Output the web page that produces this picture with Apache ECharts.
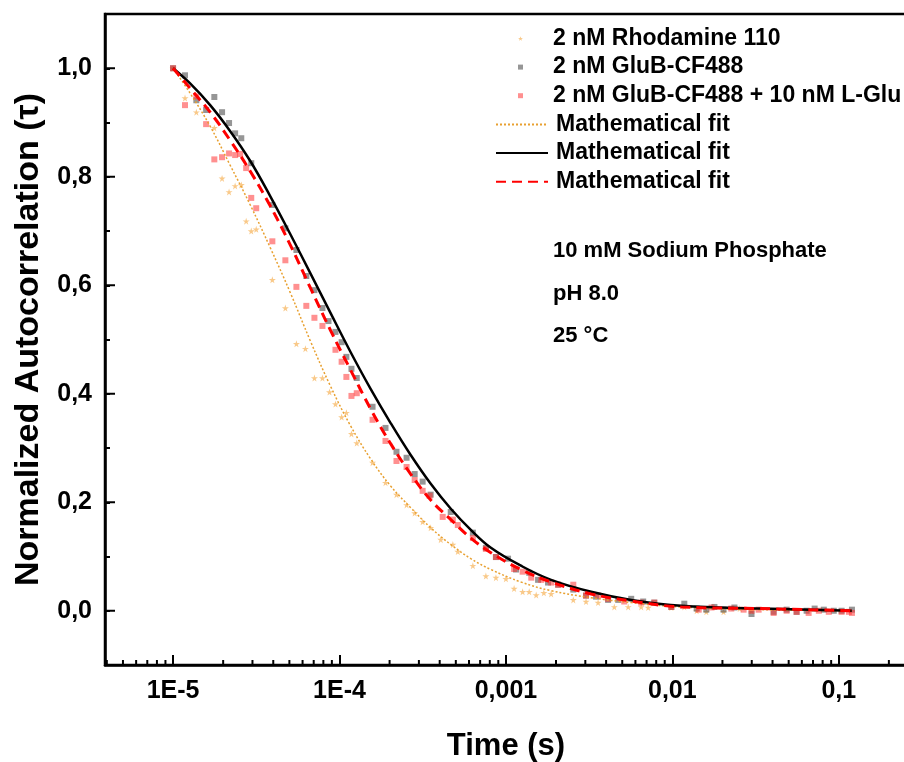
<!DOCTYPE html>
<html>
<head>
<meta charset="utf-8">
<script src="https://cdn.jsdelivr.net/npm/echarts@6/dist/echarts.min.js"></script>
<style>
  html, body { margin: 0; padding: 0; background: #fff; }
  #chart { width: 904px; height: 762px; }
</style>
</head>
<body>
<div id="chart"></div>
<script>
// ---- data (time in s, normalized G(tau)) ----
const rhoT = [1.0e-5, 1.18e-5, 1.38e-5, 1.77e-5, 1.97e-5, 2.17e-5, 2.36e-5, 2.57e-5, 2.75e-5, 2.95e-5,
  3.16e-5, 3.95e-5, 4.73e-5, 5.51e-5, 6.24e-5, 7.07e-5, 7.90e-5, 8.71e-5, 9.46e-5, 1.03e-4,
  1.10e-4, 1.18e-4, 1.27e-4, 1.58e-4, 1.89e-4, 2.20e-4, 2.53e-4, 2.83e-4, 3.16e-4, 3.53e-4,
  4.06e-4, 4.80e-4, 5.14e-4, 6.33e-4, 7.58e-4, 8.71e-4, 1.00e-3, 1.12e-3, 1.26e-3, 1.38e-3,
  1.52e-3, 1.69e-3, 1.87e-3, 2.54e-3, 3.03e-3, 3.58e-3, 4.48e-3, 5.43e-3, 6.50e-3, 7.16e-3,
  9.86e-3, 1.18e-2, 1.40e-2, 1.60e-2, 2.03e-2, 2.54e-2, 2.99e-2];
const rhoG = [1.000, 0.945, 0.919, 0.890, 0.797, 0.772, 0.783, 0.785, 0.718, 0.700,
  0.703, 0.610, 0.558, 0.492, 0.483, 0.429, 0.429, 0.403, 0.381, 0.357,
  0.365, 0.326, 0.309, 0.273, 0.236, 0.214, 0.195, 0.180, 0.164, 0.153,
  0.131, 0.122, 0.109, 0.083, 0.064, 0.061, 0.059, 0.041, 0.035, 0.035,
  0.029, 0.033, 0.031, 0.020, 0.017, 0.015, 0.007, 0.007, 0.007, 0.006,
  0.006, 0.007, 0.000, -0.002, -0.002, 0.004, 0.000];

const glubT = [1.0e-5, 1.18e-5, 1.38e-5, 1.58e-5, 1.77e-5, 1.97e-5, 2.17e-5, 2.36e-5, 2.57e-5, 2.95e-5,
  3.95e-5, 4.73e-5, 5.51e-5, 6.32e-5, 7.07e-5, 7.90e-5, 8.59e-5, 9.46e-5, 1.03e-4, 1.10e-4,
  1.18e-4, 1.27e-4, 1.58e-4, 1.89e-4, 2.20e-4, 2.53e-4, 2.83e-4, 3.16e-4, 3.53e-4, 4.66e-4,
  6.33e-4, 7.58e-4, 8.71e-4, 1.03e-3, 1.15e-3, 1.38e-3, 1.56e-3, 1.79e-3, 2.06e-3, 2.54e-3,
  3.03e-3, 3.48e-3, 4.11e-3, 4.73e-3, 5.66e-3, 6.68e-3, 7.79e-3, 9.86e-3, 1.18e-2, 1.40e-2,
  1.60e-2, 1.79e-2, 2.03e-2, 2.36e-2, 2.99e-2, 4.06e-2, 4.86e-2, 5.58e-2, 6.41e-2, 7.16e-2,
  8.13e-2, 9.33e-2, 0.104, 0.120];
const glubG = [1.000, 0.987, 0.941, 0.923, 0.947, 0.919, 0.899, 0.880, 0.871, 0.825,
  0.748, 0.705, 0.665, 0.617, 0.591, 0.558, 0.534, 0.514, 0.495, 0.468,
  0.446, 0.429, 0.376, 0.337, 0.293, 0.282, 0.252, 0.238, 0.214, 0.182,
  0.144, 0.116, 0.099, 0.096, 0.076, 0.070, 0.057, 0.052, 0.048, 0.039,
  0.028, 0.026, 0.020, 0.020, 0.022, 0.017, 0.015, 0.007, 0.013, 0.004,
  0.002, 0.007, 0.002, 0.006, -0.006, -0.002, 0.002, -0.002, 0.000, 0.004,
  0.002, 0.000, 0.000, 0.002];

const gluT = [1.0e-5, 1.18e-5, 1.38e-5, 1.58e-5, 1.77e-5, 1.97e-5, 2.17e-5, 2.36e-5, 2.53e-5, 2.75e-5,
  2.95e-5, 3.16e-5, 3.95e-5, 4.73e-5, 5.51e-5, 6.32e-5, 7.07e-5, 7.90e-5, 9.46e-5, 1.03e-4,
  1.10e-4, 1.18e-4, 1.27e-4, 1.58e-4, 1.89e-4, 2.20e-4, 2.53e-4, 2.83e-4, 3.16e-4, 3.48e-4,
  4.17e-4, 4.80e-4, 5.14e-4, 6.33e-4, 7.58e-4, 8.71e-4, 1.12e-3, 1.26e-3, 1.42e-3, 1.63e-3,
  1.87e-3, 2.06e-3, 2.54e-3, 3.03e-3, 3.58e-3, 4.11e-3, 5.14e-3, 6.50e-3, 7.79e-3, 9.86e-3,
  1.44e-2, 1.72e-2, 2.26e-2, 2.68e-2, 2.99e-2, 3.30e-2, 4.06e-2, 4.86e-2, 5.58e-2, 6.59e-2,
  7.59e-2, 8.71e-2, 0.104, 0.115, 0.120];
const gluG = [1.000, 0.932, 0.948, 0.897, 0.832, 0.836, 0.843, 0.840, 0.842, 0.816,
  0.761, 0.742, 0.681, 0.646, 0.597, 0.562, 0.540, 0.525, 0.481, 0.459,
  0.431, 0.396, 0.401, 0.352, 0.313, 0.276, 0.265, 0.241, 0.221, 0.212,
  0.173, 0.168, 0.158, 0.134, 0.114, 0.099, 0.077, 0.072, 0.061, 0.057,
  0.052, 0.048, 0.048, 0.028, 0.028, 0.022, 0.017, 0.015, 0.015, 0.007,
  0.002, 0.006, 0.004, 0.002, 0.000, 0.002, -0.004, 0.000, -0.002, -0.004,
  0.000, -0.002, -0.002, -0.002, -0.004];

// fitted curves on a common time grid
const fitT = [1.000e-5, 1.266e-5, 1.671e-5, 2.205e-5, 2.910e-5, 3.840e-5, 5.068e-5, 6.688e-5, 8.828e-5, 1.165e-4,
  1.538e-4, 2.029e-4, 2.678e-4, 3.534e-4, 4.665e-4, 6.156e-4, 8.124e-4, 1.231e-3, 1.867e-3, 3.252e-3,
  5.662e-3, 1.133e-2, 3.437e-2, 0.1197];
const fitRhoG = [1.000, 0.954, 0.893, 0.821, 0.748, 0.669, 0.586, 0.497, 0.414, 0.341,
  0.280, 0.230, 0.190, 0.153, 0.122, 0.096, 0.076, 0.053, 0.037, 0.024,
  0.015, 0.007, 0.002, 0.000];
const fitGlubG = [1.000, 0.972, 0.932, 0.884, 0.829, 0.764, 0.694, 0.622, 0.549, 0.477,
  0.409, 0.346, 0.287, 0.234, 0.188, 0.149, 0.116, 0.083, 0.057, 0.035,
  0.020, 0.009, 0.004, 0.000];
const fitGluG = [1.000, 0.963, 0.919, 0.867, 0.810, 0.746, 0.674, 0.595, 0.517, 0.444,
  0.372, 0.308, 0.252, 0.204, 0.168, 0.134, 0.107, 0.076, 0.053, 0.031,
  0.018, 0.007, 0.004, 0.000];

// axis ticks
const xTickExps = [-5, -4, -3, -2, -1];
const xTickLabels = ['1E-5', '1E-4', '0,001', '0,01', '0,1'];
const yTickValues = [0, 0.2, 0.4, 0.6, 0.8, 1.0];
const yTickLabels = ['0,0', '0,2', '0,4', '0,6', '0,8', '1,0'];

const names = ['2 nM Rhodamine 110', '2 nM GluB-CF488', '2 nM GluB-CF488 + 10 nM L-Glu'];
const fitNames = ['Mathematical fit', 'Mathematical fit ', 'Mathematical fit  '];

const X_MIN = 3.9e-6, X_MAX = 0.257, Y_MIN = -0.1, Y_MAX = 1.1;
const FONT = '"Liberation Sans", Arial, sans-serif';
const STAR = 'path://M50,0 L61,35 L98,35 L68,57 L79,91 L50,70 L21,91 L32,57 L2,35 L39,35 Z';

const zip = (a, b) => a.map((v, i) => [v, b[i]]);

// log minor ticks on the x axis (2..9 x 10^k)
const xMinor = [];
for (let e = -6; e <= -1; e++) {
  for (let m = 2; m <= 9; m++) {
    const v = m * Math.pow(10, e);
    if (v > X_MIN && v < X_MAX) xMinor.push([v, Y_MIN]);
  }
}

let myChart = echarts.init(document.getElementById('chart'), null, { renderer: 'canvas' });

const option = {
  animation: false,
  backgroundColor: '#fff',
  textStyle: { fontFamily: FONT },
  grid: {
    left: 105, top: 14, right: -3, bottom: 97,
    outerBoundsMode: 'none',
    show: true, borderColor: '#000', borderWidth: 2.5
  },
  legend: [
    {
      data: names,
      orient: 'vertical',
      left: 518, top: 27,
      padding: 0,
      itemWidth: 5, itemHeight: 5,
      itemGap: 5.6,
      textStyle: { fontFamily: FONT, fontWeight: 'bold', fontSize: 23, color: '#000', padding: [0, 0, 0, 25] }
    },
    {
      data: fitNames,
      orient: 'vertical',
      left: 495, top: 113,
      padding: 0,
      itemWidth: 52, itemHeight: 14,
      itemGap: 5.6,
      itemStyle: { opacity: 0 },
      formatter: n => n.trim(),
      textStyle: { fontFamily: FONT, fontWeight: 'bold', fontSize: 23, color: '#000', padding: [0, 0, 0, 3] }
    }
  ],
  xAxis: {
    type: 'log',
    logBase: 10,
    min: X_MIN, max: X_MAX,
    name: 'Time (s)',
    nameLocation: 'middle',
    nameGap: 66,
    nameTextStyle: { fontFamily: FONT, fontWeight: 'bold', fontSize: 31, color: '#000' },
    axisLine: { onZero: false, lineStyle: { color: '#000', width: 2.5 } },
    axisTick: { inside: true, length: 10, lineStyle: { color: '#000', width: 2 } },
    axisLabel: {
      margin: 14, color: '#000', fontFamily: FONT, fontWeight: 'bold', fontSize: 25,
      showMinLabel: false, showMaxLabel: false,
      formatter: v => {
        const l = Math.log10(v), e = Math.round(l);
        const i = xTickExps.indexOf(e);
        return (i >= 0 && Math.abs(l - e) < 1e-6) ? xTickLabels[i] : '';
      }
    },
    splitLine: { show: false }
  },
  yAxis: {
    type: 'value',
    min: Y_MIN, max: Y_MAX, interval: 0.1,
    name: 'Normalized Autocorrelation (\u03c4)',
    nameLocation: 'middle',
    nameGap: 59,
    nameTextStyle: { fontFamily: FONT, fontWeight: 'bold', fontSize: 34, color: '#000' },
    axisLine: { onZero: false, lineStyle: { color: '#000', width: 2.5 } },
    axisTick: { inside: true, length: 5, lineStyle: { color: '#000', width: 2 } },
    axisLabel: {
      margin: 13, color: '#000', fontFamily: FONT, fontWeight: 'bold', fontSize: 25,
      formatter: v => {
        const i = yTickValues.findIndex(t => Math.abs(t - v) < 1e-6);
        return i >= 0 ? yTickLabels[i] : '';
      }
    },
    splitLine: { show: false }
  },
  graphic: [
    { type: 'text', x: 553, y: 251, style: { text: '10 mM Sodium Phosphate', font: 'bold 22px ' + FONT, fill: '#000', verticalAlign: 'middle' } },
    { type: 'text', x: 553, y: 294, style: { text: 'pH 8.0', font: 'bold 22px ' + FONT, fill: '#000', verticalAlign: 'middle' } },
    { type: 'text', x: 553, y: 336, style: { text: '25 \u00b0C', font: 'bold 22px ' + FONT, fill: '#000', verticalAlign: 'middle' } }
  ],
  series: [
    {
      name: names[0], type: 'scatter', data: zip(rhoT, rhoG),
      symbol: STAR, symbolSize: 7,
      itemStyle: { color: 'rgba(245,170,70,0.8)' }
    },
    {
      name: names[1], type: 'scatter', data: zip(glubT, glubG),
      symbol: 'rect', symbolSize: 6,
      itemStyle: { color: 'rgba(80,80,80,0.75)' }
    },
    {
      name: names[2], type: 'scatter', data: zip(gluT, gluG),
      symbol: 'rect', symbolSize: 6,
      itemStyle: { color: 'rgba(255,50,50,0.68)' }
    },
    {
      name: fitNames[0], type: 'line', data: zip(fitT, fitRhoG),
      symbol: 'none', smooth: 0.4,
      lineStyle: { color: '#e8a030', width: 1.5, type: [2, 2] },
      itemStyle: { color: '#e8a030' }
    },
    {
      name: fitNames[1], type: 'line', data: zip(fitT, fitGlubG),
      symbol: 'none', smooth: 0.4,
      lineStyle: { color: '#000', width: 2.5 },
      itemStyle: { color: '#000' }
    },
    {
      name: fitNames[2], type: 'line', data: zip(fitT, fitGluG),
      symbol: 'none', smooth: 0.4,
      lineStyle: { color: '#ff0000', width: 3, type: [10, 6] },
      itemStyle: { color: '#ff0000' }
    },
    {
      // minor log ticks on the x axis
      type: 'custom', silent: true, data: xMinor,
      renderItem: (params, api) => {
        const p = api.coord([api.value(0), api.value(1)]);
        return { type: 'line', shape: { x1: p[0], y1: p[1], x2: p[0], y2: p[1] - 5 }, style: { stroke: '#000', lineWidth: 2 } };
      }
    },
    {
      // longer major ticks on the y axis
      type: 'custom', silent: true, data: yTickValues.map(v => [X_MIN, v]),
      renderItem: (params, api) => {
        const p = api.coord([api.value(0), api.value(1)]);
        return { type: 'line', shape: { x1: p[0], y1: p[1], x2: p[0] + 10, y2: p[1] }, style: { stroke: '#000', lineWidth: 2 } };
      }
    }
  ]
};

myChart.setOption(option);
</script>
</body>
</html>
